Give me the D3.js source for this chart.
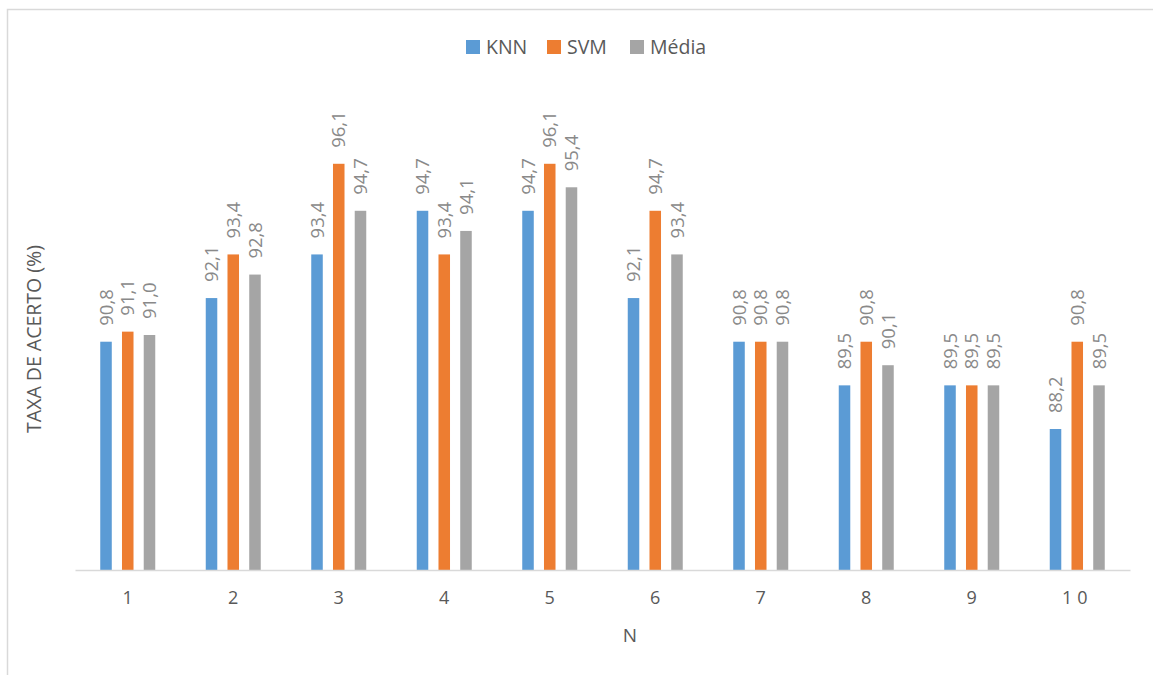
<!DOCTYPE html>
<html>
<head>
<meta charset="utf-8">
<script src="https://cdn.jsdelivr.net/npm/d3@7"></script>
<style>
  html, body { margin: 0; padding: 0; background: #fff; }
  svg { display: block; font-family: "Open Sans", "Noto Sans", sans-serif; }
</style>
</head>
<body>
<svg id="chart" width="1153" height="675"></svg>
<script>
const categories = ["1", "2", "3", "4", "5", "6", "7", "8", "9", "10"];
const seriesNames = ["KNN", "SVM", "Média"];
const knn   = [90.8, 92.1, 93.4, 94.7, 94.7, 92.1, 90.8, 89.5, 89.5, 88.2];
const svmV  = [91.1, 93.4, 96.1, 93.4, 96.1, 94.7, 90.8, 90.8, 89.5, 90.8];
const media = [91.0, 92.8, 94.7, 94.1, 95.4, 93.4, 90.8, 90.1, 89.5, 89.5];
const colors = ["#5b9bd5", "#ed7d31", "#a5a5a5"];
const yTitle = "TAXA DE ACERTO (%)";
const xTitle = "N";

const seriesValues = [knn, svmV, media];
const svg = d3.select("#chart");

// outer chart border
svg.append("rect")
  .attr("x", 7.5).attr("y", 9.5)
  .attr("width", 1200).attr("height", 700)
  .attr("fill", "none").attr("stroke", "#d9d9d9").attr("stroke-width", 1.5);

const x = d3.scaleBand().domain(categories).range([75, 1130]).paddingInner(0).paddingOuter(0);
const y = d3.scaleLinear().domain([84, 98]).range([570, 100]);
const sub = d3.scaleBand().domain(seriesNames).range([-27.5, 27.5]).paddingInner(0.47).paddingOuter(0);

const fmt = v => v.toFixed(1).replace(".", ",");

seriesNames.forEach((s, si) => {
  const g = svg.append("g");
  g.selectAll("rect").data(seriesValues[si]).enter().append("rect")
    .attr("x", (d, i) => x(categories[i]) + x.bandwidth() / 2 + sub(s))
    .attr("y", d => y(d))
    .attr("width", sub.bandwidth())
    .attr("height", d => y(84) - y(d))
    .attr("fill", colors[si]);
  g.selectAll("text").data(seriesValues[si]).enter().append("text")
    .attr("transform", (d, i) => {
      const cx = x(categories[i]) + x.bandwidth() / 2 + sub(s) + sub.bandwidth() / 2;
      return `translate(${cx},${y(d) - 16}) rotate(-90)`;
    })
    .attr("dy", "0.36em")
    .attr("text-anchor", "start")
    .attr("font-size", 18.5)
    .attr("fill", "#898989")
    .text(d => fmt(d));
});

// x axis
const xAxis = d3.axisBottom(x).tickSize(0).tickPadding(21);
const xg = svg.append("g").attr("transform", "translate(0,570)").call(xAxis);
xg.select(".domain").attr("stroke", "#d9d9d9").attr("stroke-width", 1.5);
xg.selectAll("text").attr("font-size", 18).attr("fill", "#595959")
  .attr("font-family", "Open Sans, sans-serif")
  .attr("letter-spacing", d => d.length > 1 ? 5 : 0);

// axis titles
svg.append("text").attr("x", 630).attr("y", 642).attr("text-anchor", "middle")
  .attr("font-size", 19).attr("fill", "#595959").text(xTitle);
svg.append("text").attr("transform", "translate(34,339) rotate(-90)")
  .attr("dy", "0.36em").attr("text-anchor", "middle")
  .attr("font-size", 19.5).attr("fill", "#595959").text(yTitle);

// legend
const legendX = [466, 547, 630];
const lg = svg.append("g");
seriesNames.forEach((s, i) => {
  lg.append("rect").attr("x", legendX[i]).attr("y", 40).attr("width", 14).attr("height", 14).attr("fill", colors[i]);
  lg.append("text").attr("x", legendX[i] + 20).attr("y", 47).attr("dy", "0.36em")
    .attr("font-size", 19.5).attr("fill", "#595959").text(s);
});
</script>
</body>
</html>
